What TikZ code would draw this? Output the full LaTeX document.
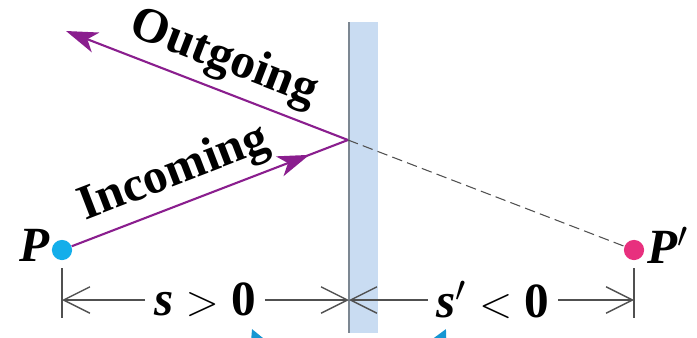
\documentclass[tikz,border=0pt]{standalone}
\usepackage{fontspec}
\setmainfont{Liberation Serif}
\usetikzlibrary{arrows.meta,decorations.markings}
\definecolor{raypurple}{HTML}{8A1E8E}
\definecolor{mirrorblue}{HTML}{C9DCF2}
\definecolor{mirroredge}{HTML}{7C8792}
\definecolor{dimgray}{HTML}{505050}
\definecolor{objcyan}{HTML}{14AEEA}
\definecolor{imgpink}{HTML}{E8307E}
\definecolor{notecyan}{HTML}{1596D2}
\tikzset{
  ray/.style={
    draw=raypurple,
    line width=1.2pt
  },
  raytext/.style={
    font=\bfseries\fontsize{28}{32}\selectfont,
    sloped,
    above,
    inner sep=4pt
  },
  dim/.style={
    -{Straight Barb[length=15pt,width=15pt]},
    draw=dimgray,
    line width=0.8pt
  },
  dimtext/.style={
    font=\fontsize{28}{32}\selectfont,
    inner sep=5pt
  },
  tick/.style={
    draw=dimgray,
    line width=0.8pt
  },
  dot/.style={
    circle,
    inner sep=0pt,
    minimum size=11.5pt
  },
  ptlabel/.style={
    font=\bfseries\itshape\fontsize{28}{32}\selectfont
  }
}

\begin{document}
\begin{tikzpicture}[x=0.02cm, y=-0.02cm]
  \useasboundingbox (0,0) rectangle (697,338);

  % mirror
  \fill[mirrorblue] (349,22) rectangle (378,333);
  \draw[mirroredge, line width=1.2pt] (349,22) -- (349,333);

  \coordinate (refl) at (348,140);
  \coordinate (outend) at (66,31);

  \node[dot, fill=objcyan] (P) at (62,250) {};
  \node[dot, fill=imgpink] (Pimg) at (634,250) {};
  \node[ptlabel] (Plabel) at (35,245) {P};
  \node[ptlabel] (Pimglabel) at (668,245) {P$'$};

  % rays
  \draw[ray, {Stealth[length=18pt,width=12pt,inset=5pt]}-] (outend) -- node[raytext, pos=0.52] {Outgoing} (refl);
  \draw[ray, postaction={decorate}, decoration={markings,
      mark=at position 0.86 with {\arrow{Stealth[length=18pt,width=12pt,inset=5pt]}}}]
    (P) -- node[raytext, pos=0.41] {Incoming} (refl);
  \draw[dimgray, line width=0.6pt, dash pattern=on 6pt off 3pt] (refl) -- (Pimg);

  % distances
  \coordinate (tickL) at (62,300);
  \coordinate (tickM) at (349,300);
  \coordinate (tickR) at (634,300);
  \draw[tick] (62,268) -- (62,318);
  \draw[tick] (634,268) -- (634,318);

  \node[dimtext] (sobj) at (205,300) {{\bfseries\itshape s}\hspace{7pt}$>$\hspace{7pt}{\bfseries 0}};
  \node[dimtext] (simg) at (493,300) {{\bfseries\itshape s}$'$\hspace{7pt}$<$\hspace{7pt}{\bfseries 0}};
  \draw[dim] (sobj) -- (tickL);
  \draw[dim] (sobj) -- (tickM);
  \draw[dim] (simg) -- (tickM);
  \draw[dim] (simg) -- (tickR);

  % cut-off pointers at the bottom edge
  \draw[notecyan, line width=1.5pt, -{Triangle[length=9pt,width=9pt]}] (266,362) -- (252,329);
  \draw[notecyan, line width=1.5pt, -{Triangle[length=9pt,width=9pt]}] (430,362) -- (446,329);
\end{tikzpicture}
\end{document}
